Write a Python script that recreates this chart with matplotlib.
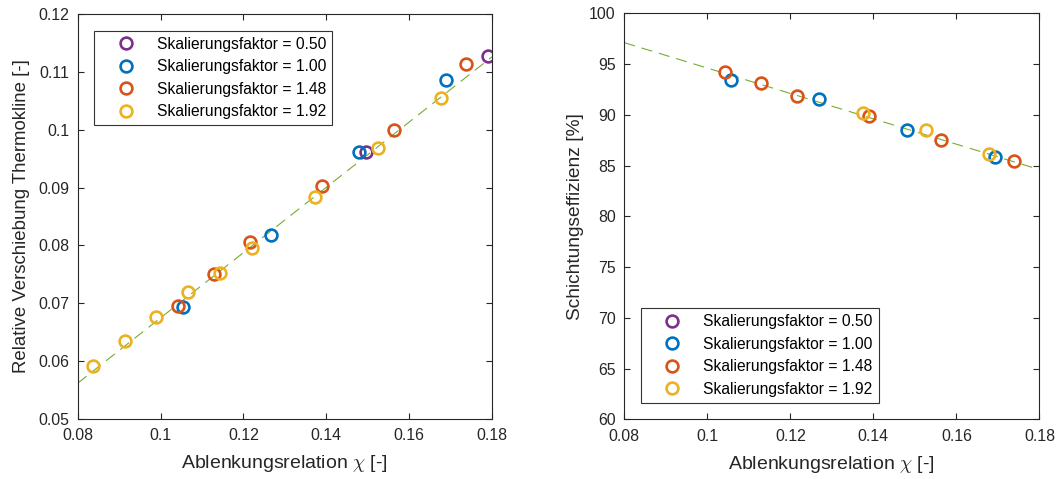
import matplotlib
matplotlib.use("Agg")
import matplotlib.pyplot as plt
import numpy as np

plt.rcParams['font.family'] = ['Liberation Sans', 'DejaVu Sans']
plt.rcParams['mathtext.fontset'] = 'cm'
plt.rcParams['lines.scale_dashes'] = False

# Series labels and colours
labels = ['Skalierungsfaktor = 0.50', 'Skalierungsfaktor = 1.00',
          'Skalierungsfaktor = 1.48', 'Skalierungsfaktor = 1.92']
colors = ['#7E2F8E', '#0072BD', '#D95319', '#EDB120']

# Relative displacement of the thermocline vs. deflection ratio
chi_050 = [0.1495, 0.1791]
shift_050 = [0.0962, 0.1127]
chi_100 = [0.1054, 0.1266, 0.1478, 0.1690]
shift_100 = [0.0694, 0.0818, 0.0962, 0.1086]
chi_148 = [0.1042, 0.1129, 0.1215, 0.1389, 0.1563, 0.1736]
shift_148 = [0.0695, 0.0751, 0.0806, 0.0903, 0.1000, 0.1113]
chi_192 = [0.0837, 0.0914, 0.0989, 0.1066, 0.1143, 0.1220, 0.1372, 0.1524, 0.1676]
shift_192 = [0.0592, 0.0634, 0.0677, 0.0720, 0.0753, 0.0795, 0.0883, 0.0969, 0.1054]

# Stratification efficiency vs. deflection ratio
eff_chi_100 = [0.1057, 0.1268, 0.1480, 0.1693]
eff_100 = [93.45, 91.57, 88.55, 85.86]
eff_chi_148 = [0.1043, 0.1129, 0.1216, 0.1390, 0.1564, 0.1739]
eff_148 = [94.22, 93.14, 91.86, 89.86, 87.57, 85.46]
eff_chi_192 = [0.1374, 0.1526, 0.1679]
eff_192 = [90.23, 88.55, 86.19]

# Linear trend lines (intercept at chi = 0.08, slope)
shift_fit = (0.0562, 0.564)
eff_fit = (97.12, -125.0)

fit_x = [0.08, 0.18]
x_ticks = [0.08, 0.10, 0.12, 0.14, 0.16, 0.18]
x_ticklabels = ['0.08', '0.1', '0.12', '0.14', '0.16', '0.18']
shift_ticks = [0.05, 0.06, 0.07, 0.08, 0.09, 0.10, 0.11, 0.12]
shift_ticklabels = ['0.05', '0.06', '0.07', '0.08', '0.09', '0.1', '0.11', '0.12']
eff_ticks = [60, 65, 70, 75, 80, 85, 90, 95, 100]

ink = '#262626'
fit_color = '#77AC30'

fig = plt.figure(figsize=(10.62, 4.79), dpi=100)
ax1 = fig.add_axes([0.0732, 0.1253, 0.3901, 0.8455])
ax2 = fig.add_axes([0.5879, 0.1243, 0.3908, 0.8476])

marker_kw = dict(linestyle='none', marker='o', markersize=8.5,
                 markerfacecolor='none', markeredgewidth=1.9)


def style(ax):
    for s in ax.spines.values():
        s.set_color(ink)
        s.set_linewidth(0.8)
    ax.tick_params(direction='in', top=True, right=True, length=4,
                   width=0.8, color=ink, labelcolor=ink, labelsize=11.4)
    ax.tick_params(axis='x', pad=6.8)
    ax.tick_params(axis='y', pad=6.2)


def legend(ax, loc, anchor):
    lg = ax.legend(loc=loc, bbox_to_anchor=anchor, borderaxespad=0,
                   fancybox=False, framealpha=1, edgecolor='#333333',
                   fontsize=11.25, handlelength=3.24, handletextpad=0.36,
                   labelspacing=0.48, borderpad=0.39, markerscale=1.0)
    lg.get_frame().set_linewidth(0.8)


# Left panel
xs = np.array(fit_x)
ax1.plot(xs, shift_fit[0] + shift_fit[1] * (xs - 0.08), color=fit_color,
         lw=0.8, linestyle=(0, (8, 5)), zorder=1)
for (cx, cy), c, lab in zip([(chi_050, shift_050), (chi_100, shift_100),
                             (chi_148, shift_148), (chi_192, shift_192)],
                            colors, labels):
    ax1.plot(cx, cy, color=c, markeredgecolor=c, label=lab, **marker_kw)
ax1.set_xlim(0.08, 0.18)
ax1.set_ylim(0.05, 0.12)
ax1.set_xticks(x_ticks, x_ticklabels)
ax1.set_yticks(shift_ticks, shift_ticklabels)
ax1.set_xlabel(r'Ablenkungsrelation $\chi$ [-]', fontsize=14.0, color=ink, labelpad=7)
ax1.set_ylabel('Relative Verschiebung Thermokline [-]', fontsize=13.4, color=ink, labelpad=6)
style(ax1)
legend(ax1, 'upper left', (0.040, 0.959))

# Right panel
ax2.plot(xs, eff_fit[0] + eff_fit[1] * (xs - 0.08), color=fit_color,
         lw=0.8, linestyle=(0, (8, 5)), zorder=1)
ax2.plot([], [], color=colors[0], markeredgecolor=colors[0], label=labels[0], **marker_kw)
for (cx, cy), c, lab in zip([(eff_chi_100, eff_100), (eff_chi_148, eff_148),
                             (eff_chi_192, eff_192)],
                            colors[1:], labels[1:]):
    ax2.plot(cx, cy, color=c, markeredgecolor=c, label=lab, **marker_kw)
ax2.set_xlim(0.08, 0.18)
ax2.set_ylim(60, 100)
ax2.set_xticks(x_ticks, x_ticklabels)
ax2.set_yticks(eff_ticks)
ax2.set_xlabel(r'Ablenkungsrelation $\chi$ [-]', fontsize=14.0, color=ink, labelpad=7)
ax2.set_ylabel('Schichtungseffizienz [%]', fontsize=13.8, color=ink, labelpad=4)
style(ax2)
legend(ax2, 'lower left', (0.040, 0.041))

fig.savefig('out.png', dpi=100)
